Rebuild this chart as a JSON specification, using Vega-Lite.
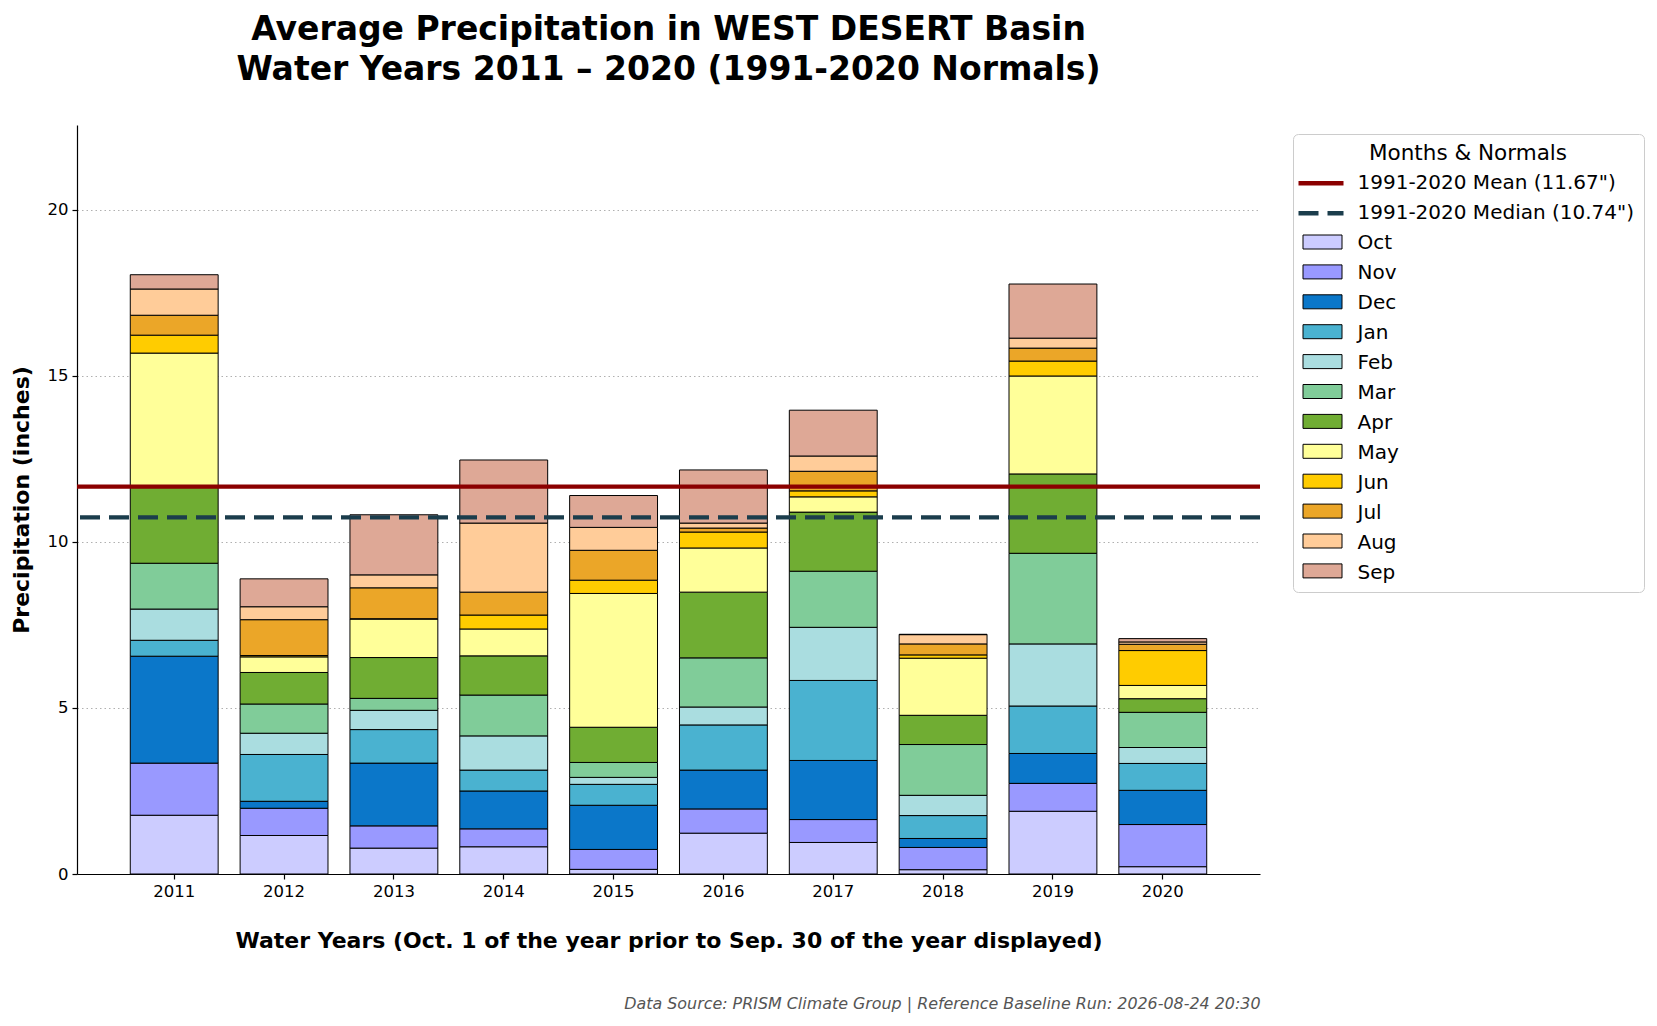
{
  "$schema": "https://vega.github.io/schema/vega-lite/v6.json",
  "width": 1183,
  "height": 749,
  "autosize": {"type": "none"},
  "padding": {"left": 77, "top": 125, "right": 397, "bottom": 152},
  "background": "white",
  "title": {
    "text": ["Average Precipitation in WEST DESERT Basin", "Water Years 2011 – 2020 (1991-2020 Normals)"],
    "font": "DejaVu Sans", "fontSize": 33, "fontWeight": "bold", "color": "black",
    "lineHeight": 40, "anchor": "middle", "offset": 38
  },
  "datasets": {
    "precip": [
      {"year": "2011", "k": 1, "series": "Oct", "p": 1.77}, {"year": "2011", "k": 2, "series": "Nov", "p": 1.57},
      {"year": "2011", "k": 3, "series": "Dec", "p": 3.22}, {"year": "2011", "k": 4, "series": "Jan", "p": 0.48},
      {"year": "2011", "k": 5, "series": "Feb", "p": 0.94}, {"year": "2011", "k": 6, "series": "Mar", "p": 1.38},
      {"year": "2011", "k": 7, "series": "Apr", "p": 2.34}, {"year": "2011", "k": 8, "series": "May", "p": 3.99},
      {"year": "2011", "k": 9, "series": "Jun", "p": 0.54}, {"year": "2011", "k": 10, "series": "Jul", "p": 0.60},
      {"year": "2011", "k": 11, "series": "Aug", "p": 0.79}, {"year": "2011", "k": 12, "series": "Sep", "p": 0.43},
      {"year": "2012", "k": 1, "series": "Oct", "p": 1.16}, {"year": "2012", "k": 2, "series": "Nov", "p": 0.82},
      {"year": "2012", "k": 3, "series": "Dec", "p": 0.21}, {"year": "2012", "k": 4, "series": "Jan", "p": 1.41},
      {"year": "2012", "k": 5, "series": "Feb", "p": 0.64}, {"year": "2012", "k": 6, "series": "Mar", "p": 0.88},
      {"year": "2012", "k": 7, "series": "Apr", "p": 0.95}, {"year": "2012", "k": 8, "series": "May", "p": 0.47},
      {"year": "2012", "k": 9, "series": "Jun", "p": 0.04}, {"year": "2012", "k": 10, "series": "Jul", "p": 1.08},
      {"year": "2012", "k": 11, "series": "Aug", "p": 0.39}, {"year": "2012", "k": 12, "series": "Sep", "p": 0.84},
      {"year": "2013", "k": 1, "series": "Oct", "p": 0.78}, {"year": "2013", "k": 2, "series": "Nov", "p": 0.67},
      {"year": "2013", "k": 3, "series": "Dec", "p": 1.89}, {"year": "2013", "k": 4, "series": "Jan", "p": 1.01},
      {"year": "2013", "k": 5, "series": "Feb", "p": 0.58}, {"year": "2013", "k": 6, "series": "Mar", "p": 0.36},
      {"year": "2013", "k": 7, "series": "Apr", "p": 1.23}, {"year": "2013", "k": 8, "series": "May", "p": 1.16},
      {"year": "2013", "k": 9, "series": "Jun", "p": 0.01}, {"year": "2013", "k": 10, "series": "Jul", "p": 0.93},
      {"year": "2013", "k": 11, "series": "Aug", "p": 0.39}, {"year": "2013", "k": 12, "series": "Sep", "p": 1.81},
      {"year": "2014", "k": 1, "series": "Oct", "p": 0.82}, {"year": "2014", "k": 2, "series": "Nov", "p": 0.54},
      {"year": "2014", "k": 3, "series": "Dec", "p": 1.14}, {"year": "2014", "k": 4, "series": "Jan", "p": 0.63},
      {"year": "2014", "k": 5, "series": "Feb", "p": 1.03}, {"year": "2014", "k": 6, "series": "Mar", "p": 1.23},
      {"year": "2014", "k": 7, "series": "Apr", "p": 1.18}, {"year": "2014", "k": 8, "series": "May", "p": 0.81},
      {"year": "2014", "k": 9, "series": "Jun", "p": 0.42}, {"year": "2014", "k": 10, "series": "Jul", "p": 0.69},
      {"year": "2014", "k": 11, "series": "Aug", "p": 2.08}, {"year": "2014", "k": 12, "series": "Sep", "p": 1.90},
      {"year": "2015", "k": 1, "series": "Oct", "p": 0.14}, {"year": "2015", "k": 2, "series": "Nov", "p": 0.60},
      {"year": "2015", "k": 3, "series": "Dec", "p": 1.33}, {"year": "2015", "k": 4, "series": "Jan", "p": 0.63},
      {"year": "2015", "k": 5, "series": "Feb", "p": 0.21}, {"year": "2015", "k": 6, "series": "Mar", "p": 0.45},
      {"year": "2015", "k": 7, "series": "Apr", "p": 1.06}, {"year": "2015", "k": 8, "series": "May", "p": 4.03},
      {"year": "2015", "k": 9, "series": "Jun", "p": 0.40}, {"year": "2015", "k": 10, "series": "Jul", "p": 0.90},
      {"year": "2015", "k": 11, "series": "Aug", "p": 0.69}, {"year": "2015", "k": 12, "series": "Sep", "p": 0.96},
      {"year": "2016", "k": 1, "series": "Oct", "p": 1.23}, {"year": "2016", "k": 2, "series": "Nov", "p": 0.73},
      {"year": "2016", "k": 3, "series": "Dec", "p": 1.17}, {"year": "2016", "k": 4, "series": "Jan", "p": 1.36},
      {"year": "2016", "k": 5, "series": "Feb", "p": 0.54}, {"year": "2016", "k": 6, "series": "Mar", "p": 1.48},
      {"year": "2016", "k": 7, "series": "Apr", "p": 1.98}, {"year": "2016", "k": 8, "series": "May", "p": 1.33},
      {"year": "2016", "k": 9, "series": "Jun", "p": 0.48}, {"year": "2016", "k": 10, "series": "Jul", "p": 0.12},
      {"year": "2016", "k": 11, "series": "Aug", "p": 0.15}, {"year": "2016", "k": 12, "series": "Sep", "p": 1.60},
      {"year": "2017", "k": 1, "series": "Oct", "p": 0.95}, {"year": "2017", "k": 2, "series": "Nov", "p": 0.69},
      {"year": "2017", "k": 3, "series": "Dec", "p": 1.78}, {"year": "2017", "k": 4, "series": "Jan", "p": 2.41},
      {"year": "2017", "k": 5, "series": "Feb", "p": 1.60}, {"year": "2017", "k": 6, "series": "Mar", "p": 1.69},
      {"year": "2017", "k": 7, "series": "Apr", "p": 1.78}, {"year": "2017", "k": 8, "series": "May", "p": 0.46},
      {"year": "2017", "k": 9, "series": "Jun", "p": 0.18}, {"year": "2017", "k": 10, "series": "Jul", "p": 0.59},
      {"year": "2017", "k": 11, "series": "Aug", "p": 0.46}, {"year": "2017", "k": 12, "series": "Sep", "p": 1.38},
      {"year": "2018", "k": 1, "series": "Oct", "p": 0.13}, {"year": "2018", "k": 2, "series": "Nov", "p": 0.67},
      {"year": "2018", "k": 3, "series": "Dec", "p": 0.27}, {"year": "2018", "k": 4, "series": "Jan", "p": 0.69},
      {"year": "2018", "k": 5, "series": "Feb", "p": 0.61}, {"year": "2018", "k": 6, "series": "Mar", "p": 1.53},
      {"year": "2018", "k": 7, "series": "Apr", "p": 0.88}, {"year": "2018", "k": 8, "series": "May", "p": 1.72},
      {"year": "2018", "k": 9, "series": "Jun", "p": 0.10}, {"year": "2018", "k": 10, "series": "Jul", "p": 0.33},
      {"year": "2018", "k": 11, "series": "Aug", "p": 0.28}, {"year": "2018", "k": 12, "series": "Sep", "p": 0.01},
      {"year": "2019", "k": 1, "series": "Oct", "p": 1.89}, {"year": "2019", "k": 2, "series": "Nov", "p": 0.84},
      {"year": "2019", "k": 3, "series": "Dec", "p": 0.90}, {"year": "2019", "k": 4, "series": "Jan", "p": 1.43},
      {"year": "2019", "k": 5, "series": "Feb", "p": 1.87}, {"year": "2019", "k": 6, "series": "Mar", "p": 2.73},
      {"year": "2019", "k": 7, "series": "Apr", "p": 2.39}, {"year": "2019", "k": 8, "series": "May", "p": 2.95},
      {"year": "2019", "k": 9, "series": "Jun", "p": 0.45}, {"year": "2019", "k": 10, "series": "Jul", "p": 0.39},
      {"year": "2019", "k": 11, "series": "Aug", "p": 0.30}, {"year": "2019", "k": 12, "series": "Sep", "p": 1.63},
      {"year": "2020", "k": 1, "series": "Oct", "p": 0.22}, {"year": "2020", "k": 2, "series": "Nov", "p": 1.27},
      {"year": "2020", "k": 3, "series": "Dec", "p": 1.03}, {"year": "2020", "k": 4, "series": "Jan", "p": 0.81},
      {"year": "2020", "k": 5, "series": "Feb", "p": 0.48}, {"year": "2020", "k": 6, "series": "Mar", "p": 1.06},
      {"year": "2020", "k": 7, "series": "Apr", "p": 0.41}, {"year": "2020", "k": 8, "series": "May", "p": 0.40},
      {"year": "2020", "k": 9, "series": "Jun", "p": 1.05}, {"year": "2020", "k": 10, "series": "Jul", "p": 0.19},
      {"year": "2020", "k": 11, "series": "Aug", "p": 0.07}, {"year": "2020", "k": 12, "series": "Sep", "p": 0.10}
    ],
    "normals": [
      {"series": "1991-2020 Mean (11.67\")", "v": 11.67},
      {"series": "1991-2020 Median (10.74\")", "v": 10.74}
    ]
  },
  "layer": [
    {
      "data": {"name": "precip"},
      "mark": {"type": "bar", "stroke": "black", "strokeWidth": 1},
      "encoding": {
        "x": {
          "field": "year", "type": "nominal",
          "scale": {"paddingInner": 0.2, "paddingOuter": 0.485},
          "axis": {
            "title": "Water Years (Oct. 1 of the year prior to Sep. 30 of the year displayed)",
            "labelAngle": 0, "titlePadding": 31
          }
        },
        "y": {
          "field": "p", "type": "quantitative", "stack": "zero",
          "scale": {"domain": [0, 22.56], "nice": false},
          "axis": {"title": "Precipitation (inches)", "values": [0, 5, 10, 15, 20], "grid": true, "titlePadding": 14}
        },
        "fill": {
          "field": "series", "type": "nominal",
          "scale": {
            "domain": ["Oct", "Nov", "Dec", "Jan", "Feb", "Mar", "Apr", "May", "Jun", "Jul", "Aug", "Sep"],
            "range": ["#ccccff", "#9999ff", "#0b77c9", "#4ab2d0", "#aadde0", "#80cc99", "#70ad33", "#ffff99", "#ffcc00", "#eba628", "#ffcc99", "#dea896"]
          },
          "legend": {
            "title": null,
            "orient": "none", "legendX": 1225, "legendY": 106.5,
            "labelFontSize": 20, "labelExpr": "''", "labelLimit": 400,
            "symbolType": "M-0.95,-0.7H2.95V0.7H-0.95Z", "symbolSize": 400,
            "symbolStrokeColor": "black", "symbolStrokeWidth": 1, "symbolOpacity": 1,
            "rowPadding": 8.9, "padding": 0
          }
        },
        "order": {"field": "k", "type": "quantitative"}
      }
    },
    {
      "data": {"name": "normals"},
      "mark": {"type": "rule", "strokeWidth": 4.3},
      "encoding": {
        "y": {"field": "v", "type": "quantitative"},
        "stroke": {
          "field": "series", "type": "nominal",
          "scale": {
            "domain": ["1991-2020 Mean (11.67\")", "1991-2020 Median (10.74\")", "Oct", "Nov", "Dec", "Jan", "Feb", "Mar", "Apr", "May", "Jun", "Jul", "Aug", "Sep"],
            "range": ["#8b0000", "#1b3d4c", "transparent", "transparent", "transparent", "transparent", "transparent", "transparent", "transparent", "transparent", "transparent", "transparent", "transparent", "transparent"]
          },
          "legend": {
            "title": "Months & Normals",
            "orient": "none", "legendX": 1216, "legendY": 9,
            "titleAnchor": "middle", "titleFontSize": 21.5, "titleFontWeight": "normal", "titlePadding": 6.3,
            "titleLimit": 600, "titleColor": "black",
            "labelFontSize": 20, "labelOffset": 30.5, "labelColor": "black", "labelLimit": 400,
            "symbolType": "M-1.6,0H2.9", "symbolSize": 400, "symbolStrokeWidth": 4.5,
            "rowPadding": 6.95, "padding": 9,
            "strokeColor": "#cccccc", "cornerRadius": 5
          }
        },
        "strokeDash": {
          "field": "series", "type": "nominal",
          "scale": {
            "domain": ["1991-2020 Mean (11.67\")", "1991-2020 Median (10.74\")", "Oct", "Nov", "Dec", "Jan", "Feb", "Mar", "Apr", "May", "Jun", "Jul", "Aug", "Sep"],
            "range": [[1, 0], [20, 9], [1, 0], [1, 0], [1, 0], [1, 0], [1, 0], [1, 0], [1, 0], [1, 0], [1, 0], [1, 0], [1, 0], [1, 0]]
          },
          "legend": {
            "title": "Months & Normals",
            "orient": "none", "legendX": 1216, "legendY": 9,
            "titleAnchor": "middle", "titleFontSize": 21.5, "titleFontWeight": "normal", "titlePadding": 6.3,
            "titleLimit": 600, "titleColor": "black",
            "labelFontSize": 20, "labelOffset": 30.5, "labelColor": "black", "labelLimit": 400,
            "symbolType": "M-1.6,0H2.9", "symbolSize": 400, "symbolStrokeWidth": 4.5,
            "rowPadding": 6.95, "padding": 9,
            "strokeColor": "#cccccc", "cornerRadius": 5
          }
        }
      }
    },
    {
      "data": {"values": [{"n": "note"}]},
      "mark": {"type": "point", "opacity": 0},
      "encoding": {
        "x": {
          "field": "n", "type": "nominal",
          "axis": {
            "orient": "bottom", "offset": 121,
            "title": "Data Source: PRISM Climate Group | Reference Baseline Run: 2026-08-24 20:30",
            "labels": false, "ticks": false, "domain": false, "grid": false,
            "titleAnchor": "end", "titleFontStyle": "italic", "titleFontWeight": "normal",
            "titleFontSize": 15.9, "titleColor": "#555555", "titlePadding": 0
          }
        }
      }
    }
  ],
  "resolve": {"scale": {"x": "independent"}},
  "config": {
    "font": "DejaVu Sans",
    "view": {"stroke": null},
    "axis": {
      "domainColor": "black", "domainWidth": 1.2,
      "tickColor": "black", "tickSize": 5, "tickWidth": 1.2,
      "labelColor": "black", "labelFontSize": 16.5, "labelPadding": 4,
      "titleColor": "black", "titleFontSize": 22, "titleFontWeight": "bold",
      "gridColor": "#b0b0b0", "gridDash": [1.5, 3], "gridWidth": 1
    },
    "axisX": {"grid": false}
  }
}
